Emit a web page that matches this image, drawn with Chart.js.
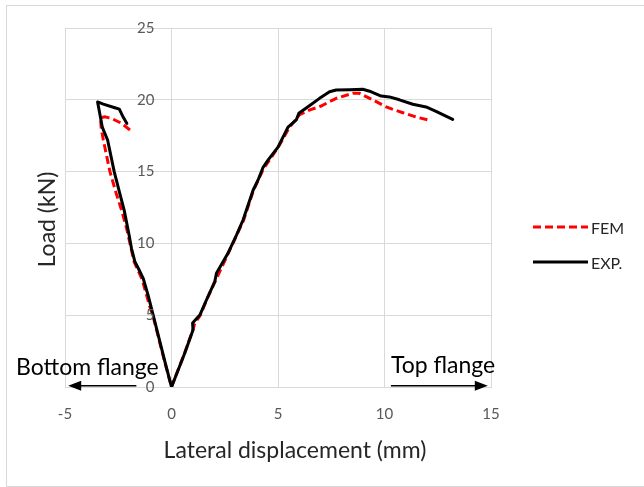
<!DOCTYPE html>
<html>
<head>
<meta charset="utf-8">
<script src="https://cdn.jsdelivr.net/npm/chart.js@4.4.1/dist/chart.umd.min.js"></script>
<style>
  body { margin: 0; background: #fff; }
  .wrap { position: relative; width: 644px; height: 487px; overflow: hidden; }
  .frame { position: absolute; left: 6px; top: 5px; width: 680px; height: 480px; border: 1px solid #d9d9d9; }
  canvas { position: absolute; left: 0; top: 0; }
</style>
</head>
<body>
<div class="wrap">
  <div class="frame"></div>
  <canvas id="chart" width="644" height="487"></canvas>
</div>
<script>
// Load vs lateral displacement, FEM against test
const FONT = 'Lato, "Open Sans", sans-serif';

const femDisp = [-1.95, -2.34, -2.81, -3.13, -3.33, -3.3, -3.2, -2.89, -2.6, -2.34, -2.1, -1.98, -1.75, -1.38, -1.02, -0.86, -0.33, 0,
  0.6, 1.0, 1.09, 1.35, 1.66, 2.05, 2.66, 3.07, 3.38, 3.85, 4.32, 4.6, 5.05, 5.5, 6.0, 6.5, 7.0, 7.73, 8.51, 8.83, 9.45, 10.08, 10.86, 11.48, 12.19];
const femLoad = [17.9, 18.36, 18.7, 18.82, 18.75, 18.0, 17.2, 15.0, 13.5, 12.3, 11.0, 10.2, 8.7, 7.5, 5.6, 4.9, 1.8, 0,
  2.3, 3.95, 4.43, 5.0, 6.1, 7.35, 9.3, 10.6, 11.6, 13.7, 15.2, 15.8, 16.8, 18.0, 18.95, 19.3, 19.55, 20.1, 20.45, 20.45, 20.0, 19.5, 19.1, 18.8, 18.55];

const expDisp = [-2.1, -2.27, -2.45, -2.66, -3.2, -3.47, -3.25, -3.0, -2.69, -2.45, -2.22, -1.98, -1.88, -1.72, -1.56, -1.33, -1.1, -0.86, -0.31, 0,
  0.62, 1.01, 0.99, 1.33, 1.64, 2.03, 2.11, 2.65, 3.05, 3.36, 3.83, 4.06, 4.3, 4.53, 5.0, 5.47, 5.86, 5.98, 6.49, 6.95, 7.42, 7.73,
  8.36, 8.98, 9.3, 9.84, 10.23, 10.7, 11.33, 11.95, 12.42, 13.2];
const expLoad = [18.36, 18.8, 19.35, 19.45, 19.7, 19.85, 18.1, 17.2, 15.0, 13.6, 12.3, 10.5, 9.66, 8.73, 8.27, 7.57, 6.4, 5.0, 1.76, 0,
  2.35, 3.97, 4.45, 5.01, 6.06, 7.33, 7.92, 9.31, 10.58, 11.63, 13.7, 14.4, 15.3, 15.8, 16.7, 18.1, 18.6, 19.06, 19.6, 20.1, 20.56, 20.68,
  20.7, 20.73, 20.6, 20.26, 20.2, 20.0, 19.69, 19.5, 19.2, 18.64];

const xTicks = [-5, 0, 5, 10, 15];
const yTicks = [0, 5, 10, 15, 20, 25];
const xTitle = 'Lateral displacement (mm)';
const yTitle = 'Load (kN)';

const toPoints = (xs, ys) => xs.map((v, i) => ({ x: v, y: ys[i] }));

function drawArrow(ctx, x1, x2, yy) {
  const dir = Math.sign(x2 - x1);
  ctx.beginPath();
  ctx.moveTo(x1, yy);
  ctx.lineTo(x2 - dir * 10, yy);
  ctx.stroke();
  ctx.beginPath();
  ctx.moveTo(x2, yy);
  ctx.lineTo(x2 - dir * 13, yy - 5);
  ctx.lineTo(x2 - dir * 13, yy + 5);
  ctx.closePath();
  ctx.fill();
}

// y labels next to the x=0 axis, titles, flange arrows and legend
const extras = {
  id: 'extras',
  afterDraw(chart) {
    const { ctx, chartArea: area, scales: { x, y } } = chart;
    ctx.save();

    ctx.fillStyle = '#595959';
    ctx.font = '15px ' + FONT;
    ctx.textAlign = 'right';
    ctx.textBaseline = 'middle';
    const x0 = x.getPixelForValue(0);
    yTicks.forEach(v => ctx.fillText(String(v), x0 - 17, y.getPixelForValue(v)));

    ctx.fillStyle = '#262626';
    ctx.font = '23px ' + FONT;
    ctx.textAlign = 'center';
    ctx.fillText(xTitle, area.left + 230, area.bottom + 64);
    ctx.save();
    ctx.translate(area.left - 17, (area.top + area.bottom) / 2 + 12);
    ctx.rotate(-Math.PI / 2);
    ctx.fillText(yTitle, 0, 0);
    ctx.restore();

    // direction labels
    ctx.fillStyle = '#000';
    ctx.strokeStyle = '#000';
    ctx.lineWidth = 1.5;
    const ay = y.getPixelForValue(0.09);
    ctx.textAlign = 'right';
    ctx.fillText('Bottom flange', x.getPixelForValue(-0.6), y.getPixelForValue(1.34));
    drawArrow(ctx, x.getPixelForValue(-1.65), x.getPixelForValue(-4.85), ay);
    ctx.textAlign = 'left';
    ctx.fillText('Top flange', x.getPixelForValue(10.3), y.getPixelForValue(1.46));
    drawArrow(ctx, x.getPixelForValue(10.3), x.getPixelForValue(14.85), ay);

    // legend
    ctx.font = '16px ' + FONT;
    chart.data.datasets.forEach((ds, i) => {
      const ly = area.top + 199 + i * 35;
      const lx = area.right + 42;
      ctx.strokeStyle = ds.borderColor;
      ctx.lineWidth = ds.borderWidth;
      ctx.setLineDash(ds.borderDash || []);
      ctx.beginPath();
      ctx.moveTo(lx, ly);
      ctx.lineTo(lx + 55, ly);
      ctx.stroke();
      ctx.setLineDash([]);
      ctx.fillStyle = '#262626';
      ctx.fillText(ds.label, lx + 58, ly + 2);
    });
    ctx.restore();
  }
};

new Chart(document.getElementById('chart'), {
  type: 'scatter',
  data: {
    datasets: [
      {
        label: 'FEM',
        data: toPoints(femDisp, femLoad),
        showLine: true,
        borderColor: '#ff0000',
        borderWidth: 3,
        borderDash: [8, 4],
        pointRadius: 0,
        order: 1
      },
      {
        label: 'EXP.',
        data: toPoints(expDisp, expLoad),
        showLine: true,
        borderColor: '#000000',
        borderWidth: 3,
        borderJoinStyle: 'round',
        borderCapStyle: 'round',
        pointRadius: 0,
        order: 0
      }
    ]
  },
  options: {
    responsive: false,
    animation: false,
    layout: { padding: { left: 65, top: 28, right: 153, bottom: 100 } },
    plugins: {
      legend: { display: false },
      tooltip: { enabled: false }
    },
    scales: {
      x: {
        type: 'linear',
        position: { y: 0 },
        min: xTicks[0],
        max: xTicks[xTicks.length - 1],
        afterBuildTicks: s => { s.ticks = xTicks.map(v => ({ value: v })); },
        grid: { color: '#d9d9d9', drawTicks: false },
        border: { color: '#d9d9d9' },
        ticks: { color: '#595959', font: { family: FONT, size: 15 }, padding: 18 }
      },
      y: {
        type: 'linear',
        position: { x: 0 },
        min: yTicks[0],
        max: yTicks[yTicks.length - 1],
        afterBuildTicks: s => { s.ticks = yTicks.map(v => ({ value: v })); },
        grid: { color: '#d9d9d9', drawTicks: false },
        border: { color: '#d9d9d9' },
        ticks: { display: false }
      }
    }
  },
  plugins: [extras]
});
</script>
</body>
</html>
